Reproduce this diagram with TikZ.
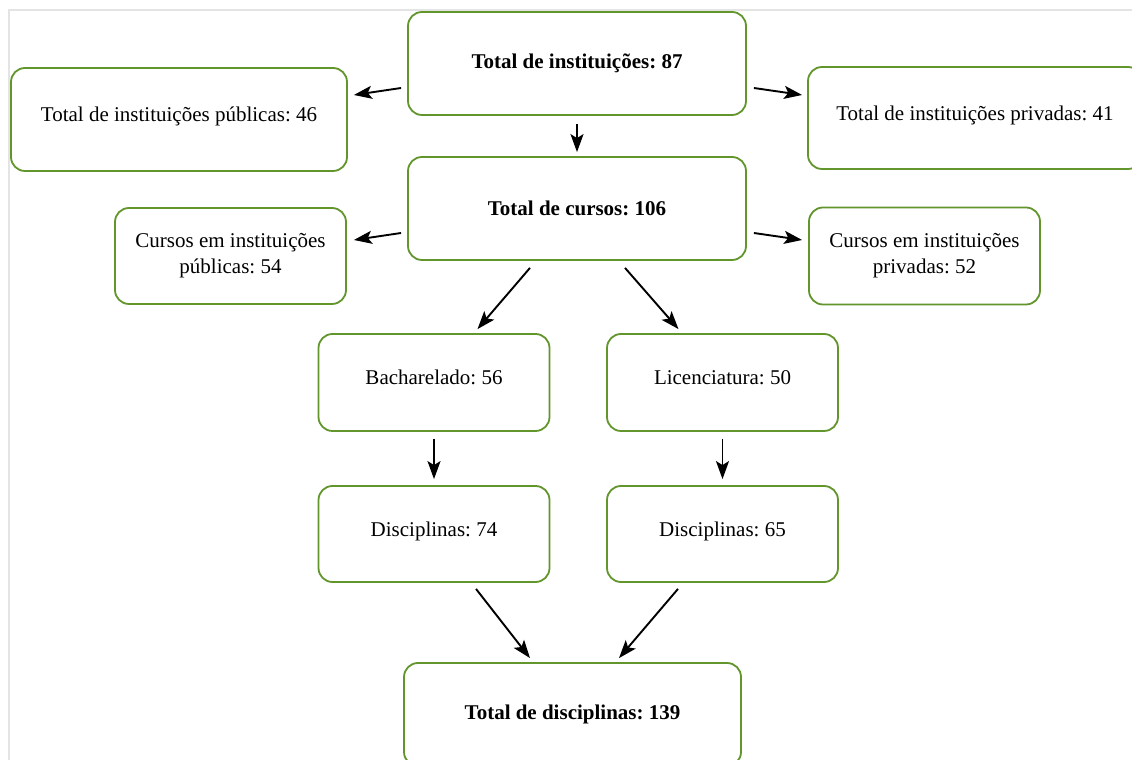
\documentclass[tikz,border=0pt]{standalone}
\usepackage{fontspec}
\setmainfont{Liberation Serif}
\usetikzlibrary{arrows.meta}
\definecolor{boxgreen}{RGB}{98,150,44}
\definecolor{framegray}{RGB}{228,228,228}
\tikzset{
  box/.style={draw=boxgreen, line width=1.8pt, rounded corners=14pt, fill=white,
    inner sep=0pt, font=\fontsize{21}{26}\selectfont\frenchspacing, align=center},
  oneline/.style={text height=14pt, text depth=9pt},
  arr/.style={draw=black, line width=1.9pt, -{Stealth[length=18pt,width=13pt,inset=4pt]}}
}
\begin{document}
\begin{tikzpicture}[x=1pt,y=1pt]
\useasboundingbox (0,0) rectangle (1132,760);
\clip (0,0) rectangle (1132,760);
\fill[white] (0,0) rectangle (1132,760);
\draw[framegray, line width=2pt] (9,-5) -- (9,750) -- (1140,750);

\node[box, minimum width=338pt, minimum height=103pt] (top) at (577,696.5) {\textbf{Total de instituições: 87}};
\node[box, oneline, minimum width=336pt, minimum height=103pt] (pub) at (179,640.5) {Total de instituições públicas: 46};
\node[box, oneline, minimum width=334pt, minimum height=102pt] (priv) at (975,642) {Total de instituições privadas: 41};
\node[box, minimum width=338pt, minimum height=103pt] (cur) at (577,551.5) {\textbf{Total de cursos: 106}};
\node[box, minimum width=231pt, minimum height=96pt] (cpub) at (230.5,504) {Cursos em instituições\\públicas: 54};
\node[box, minimum width=231pt, minimum height=97pt] (cpriv) at (924.5,504) {Cursos em instituições\\privadas: 52};
\node[box, oneline, minimum width=231pt, minimum height=97pt] (bach) at (434,377.5) {Bacharelado: 56};
\node[box, oneline, minimum width=231pt, minimum height=97pt] (lic) at (722.5,377.5) {Licenciatura: 50};
\node[box, oneline, minimum width=231pt, minimum height=96pt] (d74) at (434,226) {Disciplinas: 74};
\node[box, oneline, minimum width=231pt, minimum height=96pt] (d65) at (722.5,226) {Disciplinas: 65};
\node[box, minimum width=337pt, minimum height=103pt] (tot) at (572.5,45.5) {\textbf{Total de disciplinas: 139}};

\draw[arr] ([shift={(-6,-24.5)}]top.west) -- ([shift={(6,24.5)}]pub.east);
\draw[arr] ([shift={(7,-24.5)}]top.east) -- ([shift={(-5,23)}]priv.west);
\draw[arr] ([shift={(0,-8)}]top.south) -- ([shift={(0,4)}]cur.north);
\draw[arr] ([shift={(-6,-24.5)}]cur.west) -- ([shift={(7,16)}]cpub.east);
\draw[arr] ([shift={(7,-24.5)}]cur.east) -- ([shift={(-6,16)}]cpriv.west);
\draw[arr] ([shift={(-47,-7)}]cur.south) -- ([shift={(43.5,4)}]bach.north);
\draw[arr] ([shift={(48,-7)}]cur.south) -- ([shift={(-44,4)}]lic.north);
\draw[arr] ([shift={(0,-7)}]bach.south) -- ([shift={(0,6)}]d74.north);
\draw[arr] ([shift={(0,-7)}]lic.south) -- ([shift={(0,6)}]d65.north);
\draw[arr] ([shift={(42,-6)}]d74.south) -- ([shift={(-42.5,4)}]tot.north);
\draw[arr] ([shift={(-44.5,-6)}]d65.south) -- ([shift={(46.5,4)}]tot.north);
\end{tikzpicture}
\end{document}
